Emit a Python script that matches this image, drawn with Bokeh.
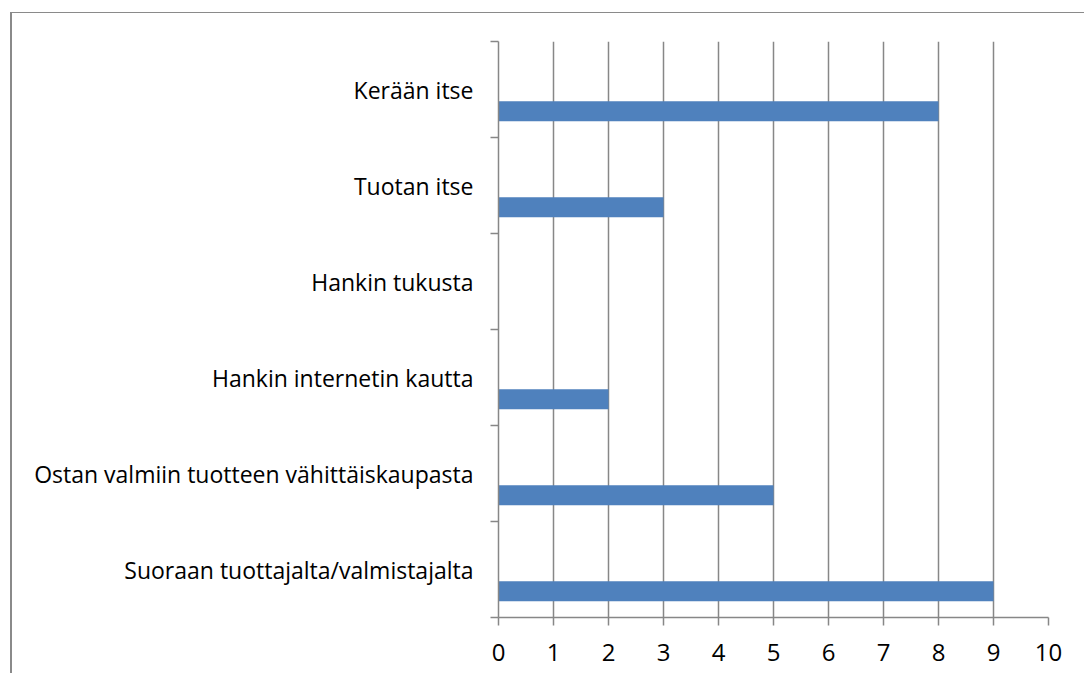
from bokeh.plotting import figure
from bokeh.models import FixedTicker, Range1d
from bokeh.embed import file_html
from bokeh.resources import INLINE

categories = [
    "Kerään itse",
    "Tuotan itse",
    "Hankin tukusta",
    "Hankin internetin kautta",
    "Ostan valmiin tuotteen vähittäiskaupasta",
    "Suoraan tuottajalta/valmistajalta",
]
values = [8, 3, 0, 2, 5, 9]
x_ticks = list(range(0, 11))

n = len(categories)
centers = [n - 1 - i for i in range(n)]  # top-to-bottom order
bar_offset = 0.226
bar_pos = [c - bar_offset for c in centers]

FONT = "Open Sans"
GRAY = "#878787"

p = figure(
    width=1074, height=661,
    x_range=Range1d(0, 10), y_range=Range1d(-0.5, n - 0.5),
    output_backend="svg", toolbar_location=None,
    min_border_left=486, min_border_right=38,
    min_border_top=28, min_border_bottom=57,
)
p.styles = {"border-left": "2px solid #8a8a8a", "border-top": "1.5px solid #8a8a8a",
            "margin-left": "10px", "margin-top": "12px"}
p.outline_line_color = None
p.background_fill_color = "white"
p.border_fill_color = "white"

p.hbar(y=bar_pos, right=values, left=0, height=0.208,
       fill_color="#4F81BD", line_color=None)

# x axis
p.xaxis.ticker = FixedTicker(ticks=x_ticks)
p.xaxis.axis_line_color = GRAY
p.xaxis.axis_line_width = 1.5
p.xaxis.major_tick_line_color = GRAY
p.xaxis.major_tick_line_width = 1.5
p.xaxis.major_tick_out = 8
p.xaxis.major_tick_in = 0
p.xaxis.minor_tick_line_color = None
p.xaxis.major_label_text_font = FONT
p.xaxis.major_label_text_font_size = "24px"
p.xaxis.major_label_text_color = "#000000"
p.xaxis.major_label_standoff = 18

p.xgrid.ticker = FixedTicker(ticks=x_ticks)
p.xgrid.grid_line_color = GRAY
p.xgrid.grid_line_width = 1.5
p.ygrid.grid_line_color = None

# y axis
p.yaxis.ticker = FixedTicker(ticks=centers,
                             minor_ticks=[c + 0.5 for c in centers] + [-0.5])
p.yaxis.major_label_overrides = {c: categories[i] for i, c in enumerate(centers)}
p.yaxis.axis_line_color = GRAY
p.yaxis.axis_line_width = 1.5
p.yaxis.major_tick_line_color = None
p.yaxis.major_tick_out = 0
p.yaxis.major_tick_in = 0
p.yaxis.minor_tick_line_color = GRAY
p.yaxis.minor_tick_line_width = 1.5
p.yaxis.minor_tick_out = 8
p.yaxis.minor_tick_in = 0
p.yaxis.major_label_text_font = FONT
p.yaxis.major_label_text_font_size = "23px"
p.yaxis.major_label_text_color = "#000000"
p.yaxis.major_label_standoff = 17

open("out.html", "w").write(file_html(p, INLINE))
